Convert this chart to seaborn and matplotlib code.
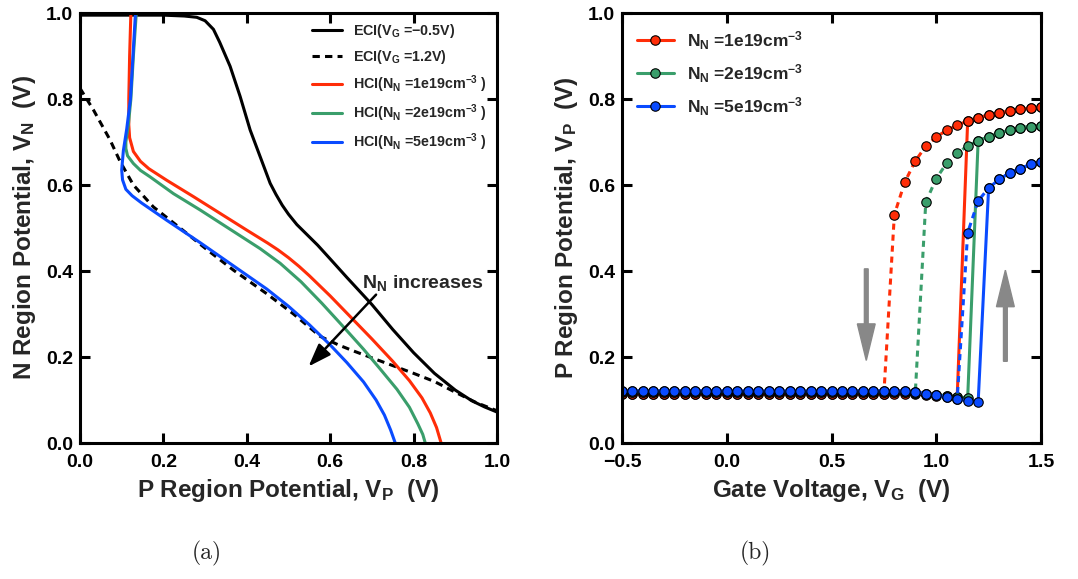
import numpy as np
import pandas as pd
import matplotlib
matplotlib.use("Agg")
import matplotlib.pyplot as plt
import seaborn as sns

# ---------------- Panel (a) data: V_N vs V_P ----------------
eci_m05_vp = [0.0, 0.10, 0.20, 0.25, 0.28, 0.30, 0.32, 0.335, 0.36, 0.384, 0.408, 0.432, 0.456,
              0.47, 0.485, 0.50, 0.52, 0.545, 0.57, 0.60, 0.64, 0.68, 0.70, 0.75, 0.80, 0.85,
              0.90, 0.94, 0.97, 1.0]
eci_m05_vn = [0.995, 0.995, 0.995, 0.993, 0.99, 0.982, 0.962, 0.932, 0.876, 0.806, 0.728, 0.666, 0.604,
              0.578, 0.553, 0.532, 0.508, 0.484, 0.460, 0.428, 0.385, 0.343, 0.322, 0.264, 0.210, 0.162,
              0.123, 0.098, 0.084, 0.072]

eci_12_vp = [0.0, 0.032, 0.072, 0.096, 0.128, 0.176, 0.24, 0.304, 0.368, 0.448, 0.512, 0.576, 0.62,
             0.656, 0.70, 0.75, 0.80, 0.85, 0.90, 0.95, 1.0]
eci_12_vn = [0.825, 0.775, 0.705, 0.655, 0.600, 0.549, 0.500, 0.450, 0.402, 0.347, 0.300, 0.248, 0.228,
             0.214, 0.198, 0.180, 0.162, 0.143, 0.118, 0.094, 0.075]

hci1_vp = [0.122, 0.119, 0.117, 0.117, 0.119, 0.128, 0.145, 0.165, 0.208, 0.272, 0.336, 0.40, 0.45,
           0.475, 0.50, 0.525, 0.55, 0.60, 0.65, 0.70, 0.75, 0.79, 0.82, 0.84, 0.855, 0.866]
hci1_vn = [1.0, 0.90, 0.80, 0.74, 0.71, 0.678, 0.655, 0.638, 0.611, 0.573, 0.534, 0.495, 0.465,
           0.449, 0.431, 0.411, 0.389, 0.342, 0.292, 0.242, 0.190, 0.145, 0.105, 0.070, 0.036, 0.0]

hci2_vp = [0.135, 0.128, 0.122, 0.116, 0.110, 0.110, 0.114, 0.128, 0.145, 0.168, 0.224, 0.288, 0.368,
           0.432, 0.48, 0.53, 0.58, 0.63, 0.68, 0.72, 0.76, 0.79, 0.81, 0.822, 0.828]
hci2_vn = [1.0, 0.90, 0.80, 0.74, 0.70, 0.685, 0.668, 0.650, 0.634, 0.619, 0.580, 0.542, 0.492,
           0.452, 0.418, 0.375, 0.325, 0.272, 0.218, 0.172, 0.125, 0.083, 0.045, 0.020, 0.0]

hci5_vp = [0.133, 0.127, 0.121, 0.112, 0.104, 0.100, 0.102, 0.110, 0.125, 0.148, 0.208, 0.288, 0.368,
           0.448, 0.50, 0.55, 0.60, 0.64, 0.68, 0.71, 0.73, 0.745, 0.756]
hci5_vn = [1.0, 0.90, 0.80, 0.73, 0.68, 0.635, 0.612, 0.590, 0.575, 0.558, 0.518, 0.466, 0.412,
           0.358, 0.318, 0.275, 0.228, 0.187, 0.142, 0.100, 0.065, 0.030, 0.0]

# ---------------- Panel (b) data: V_P vs V_G (sweep step 0.05 V) ----------------
vg = [-0.50, -0.45, -0.40, -0.35, -0.30, -0.25, -0.20, -0.15, -0.10, -0.05, 0.00, 0.05, 0.10, 0.15,
      0.20, 0.25, 0.30, 0.35, 0.40, 0.45, 0.50, 0.55, 0.60, 0.65, 0.70, 0.75, 0.80, 0.85, 0.90, 0.95,
      1.00, 1.05, 1.10, 1.15, 1.20, 1.25, 1.30, 1.35, 1.40, 1.45, 1.50]

red_fwd = [0.114] * 28 + [0.113, 0.112, 0.110, 0.109, 0.108,
                          0.749, 0.756, 0.763, 0.767, 0.772, 0.776, 0.779, 0.781]
red_bwd = [0.114] * 26 + [0.531, 0.607, 0.656, 0.690, 0.712, 0.727, 0.739,
                          0.749, 0.756, 0.763, 0.767, 0.772, 0.776, 0.779, 0.781]
green_fwd = [0.118] * 28 + [0.117, 0.115, 0.112, 0.110, 0.107, 0.105,
                            0.703, 0.712, 0.720, 0.728, 0.733, 0.736, 0.738]
green_bwd = [0.118] * 28 + [0.117, 0.560, 0.615, 0.651, 0.674, 0.691,
                            0.703, 0.712, 0.720, 0.728, 0.733, 0.736, 0.738]
blue_fwd = [0.121] * 28 + [0.118, 0.115, 0.111, 0.107, 0.102, 0.098, 0.095,
                           0.593, 0.613, 0.628, 0.638, 0.648, 0.654]
blue_bwd = [0.121] * 28 + [0.118, 0.115, 0.111, 0.107, 0.102, 0.489, 0.563,
                           0.593, 0.613, 0.628, 0.638, 0.648, 0.654]

labels_a = ["ECI($\\mathbf{V_G}$ =\u22120.5V)", "ECI($\\mathbf{V_G}$ =1.2V)",
            "HCI($\\mathbf{N_N}$ =1e19cm$^{\\mathbf{-3}}$ )",
            "HCI($\\mathbf{N_N}$ =2e19cm$^{\\mathbf{-3}}$ )",
            "HCI($\\mathbf{N_N}$ =5e19cm$^{\\mathbf{-3}}$ )"]
labels_b = ["$\\mathbf{N_N}$ =1e19cm$^{\\mathbf{-3}}$",
            "$\\mathbf{N_N}$ =2e19cm$^{\\mathbf{-3}}$",
            "$\\mathbf{N_N}$ =5e19cm$^{\\mathbf{-3}}$"]

RED, GREEN, BLUE = "#ff2d08", "#3a9e6b", "#0a4bff"

sns.set_style("ticks")
plt.rcParams.update({
    "font.family": ["Liberation Sans", "DejaVu Sans"],
    "font.weight": "bold",
    "mathtext.fontset": "custom",
    "mathtext.rm": "Liberation Sans:bold",
    "mathtext.it": "Liberation Sans:bold",
    "mathtext.bf": "Liberation Sans:bold",
    "mathtext.sf": "Liberation Sans:bold",
    "mathtext.default": "bf",
    "axes.linewidth": 2.2,
    "axes.edgecolor": "black",
    "xtick.direction": "in", "ytick.direction": "in",
    "xtick.top": True, "ytick.right": True,
    "xtick.major.size": 7, "ytick.major.size": 7,
    "xtick.major.width": 2.2, "ytick.major.width": 2.2,
    "xtick.color": "black", "ytick.color": "black",
    "xtick.labelsize": 14, "ytick.labelsize": 14,
})

fig = plt.figure(figsize=(10.78, 5.79), dpi=100)
W, H = 1078, 579
ax1 = fig.add_axes([80 / W, (H - 443) / H, 417 / W, 430 / H])
ax2 = fig.add_axes([622 / W, (H - 443) / H, 419 / W, 430 / H])

LW = 2.2


def line(ax, x, y, **kw):
    df = pd.DataFrame({"x": x, "y": y})
    sns.lineplot(data=df, x="x", y="y", ax=ax, sort=False, estimator=None, **kw)


# ---- panel a ----
line(ax1, eci_m05_vp, eci_m05_vn, color="black", linewidth=LW, label=labels_a[0])
line(ax1, eci_12_vp, eci_12_vn, color="black", linewidth=LW, linestyle=(0, (2.4, 1.7)), label=labels_a[1])
line(ax1, hci1_vp, hci1_vn, color=RED, linewidth=LW, label=labels_a[2])
line(ax1, hci2_vp, hci2_vn, color=GREEN, linewidth=LW, label=labels_a[3])
line(ax1, hci5_vp, hci5_vn, color=BLUE, linewidth=LW, label=labels_a[4])

ax1.set_xlim(0, 1)
ax1.set_ylim(0, 1)
ax1.set_xticks([0, 0.2, 0.4, 0.6, 0.8, 1.0])
ax1.set_yticks([0, 0.2, 0.4, 0.6, 0.8, 1.0])
ax1.set_xlabel("P Region Potential, $\\mathbf{V_P}$  (V)", fontsize=17.5, fontweight="bold", labelpad=4)
ax1.set_ylabel("N Region Potential, $\\mathbf{V_N}$  (V)", fontsize=17.5, fontweight="bold", labelpad=6)
ax1.legend(loc="upper left", bbox_to_anchor=(0.556, 0.978), frameon=False, fontsize=10.3,
           handlelength=2.1, handletextpad=0.75, labelspacing=0.52, borderpad=0, borderaxespad=0)
ax1.annotate("", xy=(0.548, 0.178), xytext=(0.71, 0.345),
             arrowprops=dict(arrowstyle="-|>,head_length=1.4,head_width=0.5", color="black", lw=1.8,
                             shrinkA=0, shrinkB=0))
ax1.text(0.676, 0.36, "$\\mathbf{N_N}$ increases", fontsize=14, fontweight="bold", ha="left", va="baseline")

# ---- panel b ----
mk = dict(marker="o", markersize=6.8, markeredgecolor="black", markeredgewidth=0.8)
series = [(red_fwd, red_bwd, RED, labels_b[0]),
          (green_fwd, green_bwd, GREEN, labels_b[1]),
          (blue_fwd, blue_bwd, BLUE, labels_b[2])]
for fwd, bwd, c, lab in series:
    line(ax2, vg[::-1], bwd[::-1], color=c, linewidth=LW, linestyle=(0, (2.0, 1.6)),
         markerfacecolor=c, **mk)
    line(ax2, vg, fwd, color=c, linewidth=LW, markerfacecolor=c, label=lab, **mk)

ax2.set_xlim(-0.5, 1.5)
ax2.set_ylim(0, 1)
ax2.set_xticks([-0.5, 0.0, 0.5, 1.0, 1.5])
ax2.set_yticks([0, 0.2, 0.4, 0.6, 0.8, 1.0])
ax2.set_xlabel("Gate Voltage, $\\mathbf{V_G}$  (V)", fontsize=17.5, fontweight="bold", labelpad=4)
ax2.set_ylabel("P Region Potential, $\\mathbf{V_P}$  (V)", fontsize=17.5, fontweight="bold", labelpad=6)
ax2.legend(loc="upper left", bbox_to_anchor=(0.036, 0.963), frameon=False, fontsize=12.5,
           handlelength=2.1, handletextpad=0.8, labelspacing=0.6, borderpad=0, borderaxespad=0)
ax2.arrow(0.666, 0.405, 0, -0.213, width=0.018, head_width=0.085, head_length=0.085,
          length_includes_head=True, color="#888888", zorder=5)
ax2.arrow(1.33, 0.190, 0, 0.212, width=0.018, head_width=0.085, head_length=0.085,
          length_includes_head=True, color="#888888", zorder=5)

for ax in (ax1, ax2):
    ax.tick_params(axis="x", pad=8)
    ax.tick_params(axis="y", pad=5)
    for lab in ax.get_xticklabels() + ax.get_yticklabels():
        lab.set_fontweight("bold")

fig.text(207 / W, 1 - 553 / H, "(a)", fontsize=17, family="cmr10", ha="center", va="center", weight="normal")
fig.text(755 / W, 1 - 553 / H, "(b)", fontsize=17, family="cmr10", ha="center", va="center", weight="normal")

fig.savefig("out.png", dpi=100)
